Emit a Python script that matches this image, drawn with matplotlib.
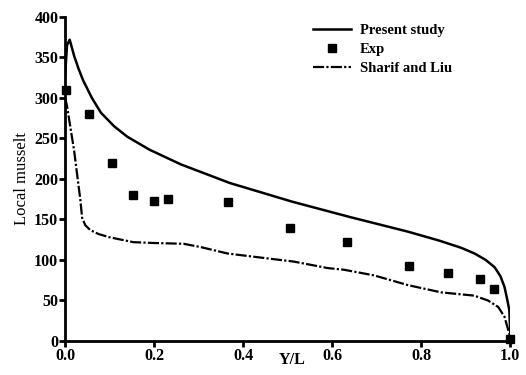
import numpy as np
import matplotlib.pyplot as plt

# Present study (solid line)
present_x = [0.0, 0.004, 0.01, 0.02, 0.03, 0.04, 0.06, 0.08, 0.11, 0.14, 0.19, 0.26, 0.37,
             0.51, 0.64, 0.77, 0.84, 0.89, 0.92, 0.945, 0.965, 0.978, 0.987, 0.993, 0.998, 1.0]
present_y = [330, 365, 372, 352, 336, 322, 300, 282, 265, 252, 236, 218, 195,
             172, 153, 135, 124, 115, 108, 100, 91, 80, 67, 52, 38, 10]

# Experimental points
exp_x = [0.002, 0.054, 0.104, 0.153, 0.2, 0.232, 0.365, 0.505, 0.633, 0.773, 0.86, 0.932, 0.964, 1.0]
exp_y = [310, 280, 220, 180, 173, 175, 171, 139, 122, 92, 84, 76, 64, 2]

# Sharif and Liu (dash-dot line)
sharif_x = [0.0, 0.004, 0.02, 0.034, 0.038, 0.045, 0.056, 0.075, 0.10, 0.153, 0.198, 0.266,
            0.304, 0.365, 0.424, 0.514, 0.59, 0.626, 0.694, 0.77, 0.845, 0.919, 0.95,
            0.973, 0.987, 1.0]
sharif_y = [300, 290, 235, 174, 152, 143, 137, 132, 128, 122, 121, 120,
            116, 108, 104, 98, 90, 88, 81, 69, 60, 56, 50, 42, 30, 5]

xticks = [0.0, 0.2, 0.4, 0.6, 0.8, 1.0]
yticks = [0, 50, 100, 150, 200, 250, 300, 350, 400]

plt.rcParams['font.family'] = ['Liberation Serif', 'DejaVu Serif']

fig = plt.figure(figsize=(5.26, 3.75), dpi=100)
ax = fig.add_axes([0.124, 0.0907, 0.846, 0.864])

ax.plot(present_x, present_y, color="black", lw=1.8, label="Present study")
ax.plot(exp_x, exp_y, "s", color="black", ms=6, label="Exp", clip_on=False)
ax.plot(sharif_x, sharif_y, color="black", lw=1.6, ls=(0, (5, 1, 1, 1)), label="Sharif and Liu")

ax.set_xlim(0, 1.0)
ax.set_ylim(0, 400)
ax.set_xticks(xticks)
ax.set_xticklabels([f"{t:.1f}" for t in xticks])
ax.set_yticks(yticks)
for s in ["top", "right"]:
    ax.spines[s].set_visible(False)
for s in ["left", "bottom"]:
    ax.spines[s].set_linewidth(2)
ax.tick_params(width=2, length=4, labelsize=11.5, pad=1)
for lab in ax.get_xticklabels() + ax.get_yticklabels():
    lab.set_fontweight("bold")

ax.set_ylabel("Local musselt", fontsize=12, labelpad=3)
ax.text(0.51, -0.035, "Y/L", transform=ax.transAxes, ha="center", va="top",
        fontsize=11.5, fontweight="bold")

leg = ax.legend(loc="upper left", bbox_to_anchor=(0.582, 0.955), bbox_transform=fig.transFigure,
                frameon=False, prop={"size": 10.5, "weight": "bold"},
                handlelength=2.6, labelspacing=0.4, borderpad=0, handletextpad=0.6)

fig.savefig("out.png", dpi=100)
